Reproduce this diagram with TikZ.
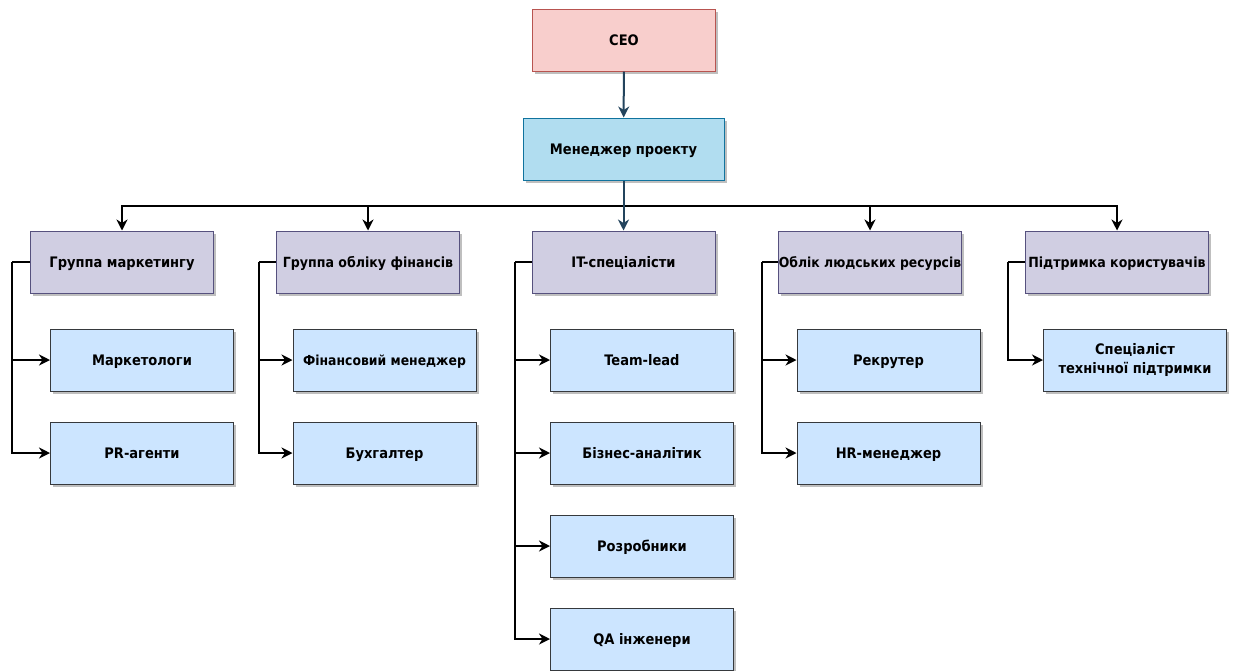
\documentclass[tikz,border=0pt]{standalone}
\usepackage{fontspec}
\setmainfont{DejaVu Sans Condensed}
\usetikzlibrary{arrows.meta,shadows}
\definecolor{ceofill}{RGB}{248,206,204}
\definecolor{ceoline}{RGB}{184,84,80}
\definecolor{pmfill}{RGB}{177,221,240}
\definecolor{pmline}{RGB}{16,115,158}
\definecolor{grpfill}{RGB}{208,206,226}
\definecolor{grpline}{RGB}{86,81,126}
\definecolor{kidfill}{RGB}{204,229,255}
\definecolor{kidline}{RGB}{54,57,61}
\definecolor{darkedge}{RGB}{35,68,93}
\tikzset{
  box/.style={draw, line width=1pt, inner xsep=0pt, inner ysep=2pt, minimum width=183pt, minimum height=62pt,
    align=center, font=\fontsize{14.5}{18.5}\selectfont\bfseries, text depth=-1pt,
    drop shadow={shadow xshift=2.5pt, shadow yshift=-2.5pt, fill=black, opacity=0.25}},
  ceobox/.style={box, fill=ceofill, draw=ceoline},
  pmbox/.style={box, fill=pmfill, draw=pmline, minimum width=201pt},
  grpbox/.style={box, fill=grpfill, draw=grpline},
  widegrp/.style={grpbox, font=\fontsize{14}{18}\selectfont\bfseries},
  kidbox/.style={box, fill=kidfill, draw=kidline},
  conn/.style={line width=2pt, black},
  arr/.style={conn, -{Stealth[length=11pt,width=11pt,inset=3.5pt]}},
  darr/.style={line width=2pt, darkedge, -{Stealth[length=11pt,width=11pt,inset=3.5pt]}}
}
\begin{document}
\begin{tikzpicture}[x=1pt,y=-1pt]
\useasboundingbox (0,0) rectangle (1234,670);
\node[ceobox] (ceo) at (624,40) {CEO};
\node[pmbox] (pm) at (623.5,149) {Менеджер проекту};
\node[grpbox] (g1) at (122,262) {Группа маркетингу};
\node[widegrp] (g2) at (368,262) {Группа обліку фінансів};
\node[grpbox] (g3) at (623.5,262) {IT-спеціалісти};
\node[widegrp, font=\fontsize{13.8}{18}\selectfont\bfseries] (g4) at (870,262) {Облік людських ресурсів};
\node[widegrp] (g5) at (1117,262) {Підтримка користувачів};
\node[kidbox] (m1) at (142,360) {Маркетологи};
\node[kidbox] (m2) at (142,453) {PR-агенти};
\node[kidbox, font=\fontsize{13.8}{17}\selectfont\bfseries] (f1) at (384.5,360) {Фінансовий менеджер};
\node[kidbox] (f2) at (384.5,453) {Бухгалтер};
\node[kidbox] (i1) at (642,360) {Team-lead};
\node[kidbox] (i2) at (642,453) {Бізнес-аналітик};
\node[kidbox] (i3) at (642,546) {Розробники};
\node[kidbox] (i4) at (642,639) {QA інженери};
\node[kidbox] (h1) at (888.5,360) {Рекрутер};
\node[kidbox] (h2) at (888.5,453) {HR-менеджер};
\node[kidbox, text depth=3pt] (s1) at (1135,360) {Спеціаліст\\технічної підтримки};
% top
\draw[darr] (ceo) -- (pm);
\coordinate (bus) at (623.5,206);
\draw[arr] (bus) -| (g1.north);
\draw[arr] (bus) -| (g2.north);
\draw[arr] (bus) -| (g4.north);
\draw[arr] (bus) -| (g5.north);
\draw[darr] (pm) -- (g3);
% branches
\coordinate (c1) at (12,262);
\coordinate (c2) at (259,262);
\coordinate (c3) at (515,262);
\coordinate (c4) at (762,262);
\coordinate (c5) at (1008,262);
\draw[conn] (g1.west) -- (c1);
\draw[arr] (c1) |- (m1.west);
\draw[arr] (c1) |- (m2.west);
\draw[conn] (g2.west) -- (c2);
\draw[arr] (c2) |- (f1.west);
\draw[arr] (c2) |- (f2.west);
\draw[conn] (g3.west) -- (c3);
\draw[arr] (c3) |- (i1.west);
\draw[arr] (c3) |- (i2.west);
\draw[arr] (c3) |- (i3.west);
\draw[arr] (c3) |- (i4.west);
\draw[conn] (g4.west) -- (c4);
\draw[arr] (c4) |- (h1.west);
\draw[arr] (c4) |- (h2.west);
\draw[conn] (g5.west) -- (c5);
\draw[arr] (c5) |- (s1.west);
\end{tikzpicture}
\end{document}
